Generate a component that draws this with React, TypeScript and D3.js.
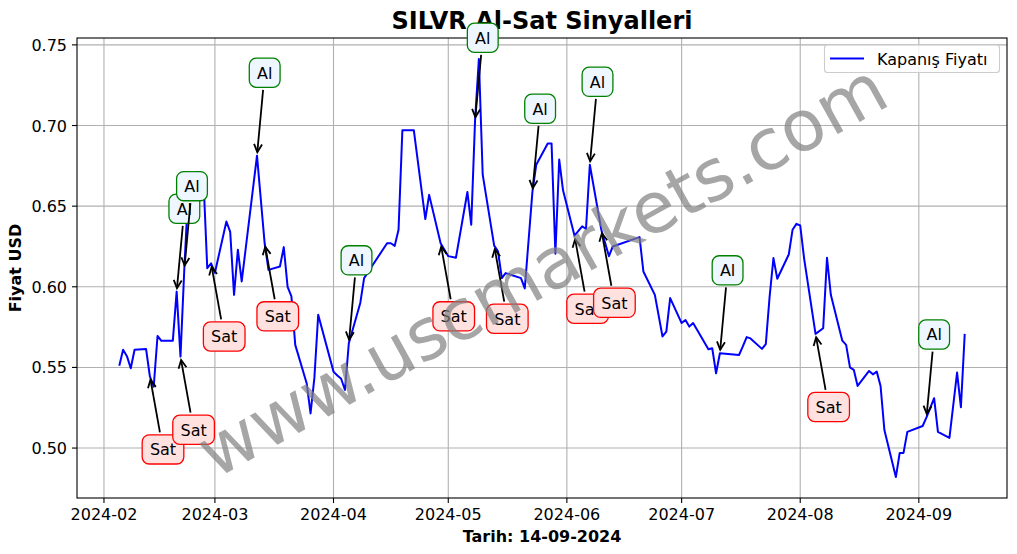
import { useEffect, useRef } from 'react';
import * as d3 from 'd3';

// closing prices
const dates = [
  '2024-02-05', '2024-02-06', '2024-02-07', '2024-02-08', '2024-02-09', '2024-02-12', '2024-02-13', '2024-02-14',
  '2024-02-15', '2024-02-16', '2024-02-19', '2024-02-20', '2024-02-21', '2024-02-22', '2024-02-23', '2024-02-26',
  '2024-02-27', '2024-02-28', '2024-02-29', '2024-03-01', '2024-03-04', '2024-03-05', '2024-03-06', '2024-03-07',
  '2024-03-08', '2024-03-12', '2024-03-14', '2024-03-15', '2024-03-18', '2024-03-19', '2024-03-20', '2024-03-21',
  '2024-03-22', '2024-03-25', '2024-03-26', '2024-03-27', '2024-03-28', '2024-04-01', '2024-04-02', '2024-04-03',
  '2024-04-04', '2024-04-05', '2024-04-08', '2024-04-09', '2024-04-11', '2024-04-15', '2024-04-16', '2024-04-17',
  '2024-04-18', '2024-04-19', '2024-04-22', '2024-04-25', '2024-04-26', '2024-04-29', '2024-05-01', '2024-05-03',
  '2024-05-06', '2024-05-07', '2024-05-08', '2024-05-09', '2024-05-10', '2024-05-13', '2024-05-14', '2024-05-15',
  '2024-05-16', '2024-05-20', '2024-05-21', '2024-05-23', '2024-05-24', '2024-05-27', '2024-05-28', '2024-05-29',
  '2024-05-30', '2024-05-31', '2024-06-03', '2024-06-05', '2024-06-06', '2024-06-07', '2024-06-10', '2024-06-12',
  '2024-06-13', '2024-06-20', '2024-06-21', '2024-06-24', '2024-06-26', '2024-06-27', '2024-06-28', '2024-07-01',
  '2024-07-02', '2024-07-03', '2024-07-04', '2024-07-08', '2024-07-09', '2024-07-10', '2024-07-11', '2024-07-16',
  '2024-07-17', '2024-07-18', '2024-07-19', '2024-07-22', '2024-07-23', '2024-07-24', '2024-07-25', '2024-07-26',
  '2024-07-29', '2024-07-30', '2024-07-31', '2024-08-01', '2024-08-02', '2024-08-05', '2024-08-07', '2024-08-08',
  '2024-08-09', '2024-08-12', '2024-08-13', '2024-08-14', '2024-08-15', '2024-08-16', '2024-08-19', '2024-08-20',
  '2024-08-21', '2024-08-22', '2024-08-23', '2024-08-26', '2024-08-27', '2024-08-28', '2024-08-29', '2024-09-02',
  '2024-09-03', '2024-09-05', '2024-09-06', '2024-09-09', '2024-09-11', '2024-09-12', '2024-09-13',
];

const closes = [
  0.551, 0.561, 0.557, 0.5495, 0.561, 0.5615, 0.5445, 0.538,
  0.5695, 0.5665, 0.5666, 0.597, 0.5567, 0.611, 0.658, 0.662,
  0.667, 0.6115, 0.6145, 0.6087, 0.6405, 0.634, 0.595, 0.623,
  0.6033, 0.6813, 0.627, 0.6105, 0.6126, 0.6246, 0.6, 0.594,
  0.564, 0.54, 0.5215, 0.5435, 0.5826, 0.5474, 0.545, 0.543,
  0.536, 0.565, 0.59, 0.6054, 0.6126, 0.627, 0.627, 0.6254,
  0.6354, 0.697, 0.697, 0.642, 0.657, 0.627, 0.619, 0.618,
  0.6588, 0.6385, 0.703, 0.7413, 0.6695, 0.6255, 0.622, 0.6054,
  0.6085, 0.6054, 0.599, 0.659, 0.6757, 0.6888, 0.6888, 0.6205,
  0.6789, 0.6598, 0.6317, 0.6375, 0.6358, 0.6757, 0.6354, 0.619,
  0.625, 0.6308, 0.6095, 0.595, 0.5692, 0.5722, 0.593, 0.5775,
  0.5794, 0.5753, 0.5775, 0.5613, 0.5619, 0.5464, 0.5588, 0.5577,
  0.563, 0.5688, 0.568, 0.5615, 0.5644, 0.594, 0.6178, 0.605,
  0.62, 0.6354, 0.639, 0.638, 0.6178, 0.5708, 0.5743, 0.618,
  0.595, 0.5666, 0.564, 0.55, 0.5485, 0.5385, 0.5478, 0.5457,
  0.5474, 0.5385, 0.5112, 0.482, 0.497, 0.497, 0.51, 0.5137,
  0.519, 0.5309, 0.51, 0.5063, 0.5468, 0.5253, 0.5708,
];

const buyDates = ['2024-02-20', '2024-02-22', '2024-03-12', '2024-04-05', '2024-05-08', '2024-05-23', '2024-06-07', '2024-07-11', '2024-09-03'];
const sellDates = ['2024-02-13', '2024-02-21', '2024-02-29', '2024-03-14', '2024-04-29', '2024-05-13', '2024-06-03', '2024-06-10', '2024-08-05'];

const yTicks = [0.5, 0.55, 0.6, 0.65, 0.7, 0.75];

const W = 1017;
const H = 554;
const plot = { left: 77, right: 1007, top: 38, bottom: 498 };
const font = 'DejaVu Sans, sans-serif';

export default function App() {
  const svgRef = useRef<SVGSVGElement>(null);

  useEffect(() => {
    document.body.style.margin = '0';
    if (!svgRef.current) return;
    const svg = d3.select(svgRef.current);
    svg.selectAll('*').remove();

    const parse = d3.utcParse('%Y-%m-%d');
    const data = dates.map((d, i) => ({ date: parse(d)!, close: closes[i] }));

    // matplotlib-style 5% margins
    const [t0, t1] = d3.extent(data, d => +d.date) as [number, number];
    const [v0, v1] = d3.extent(data, d => d.close) as [number, number];
    const tp = (t1 - t0) * 0.05;
    const vp = (v1 - v0) * 0.05;

    const x = d3.scaleUtc().domain([new Date(t0 - tp), new Date(t1 + tp)]).range([plot.left, plot.right]);
    const y = d3.scaleLinear().domain([v0 - vp, v1 + vp]).range([plot.bottom, plot.top]);
    const xTicks = x.ticks(d3.utcMonth.every(1)!);

    svg.append('rect').attr('width', W).attr('height', H).attr('fill', 'white');

    // grid
    const grid = svg.append('g').attr('stroke', '#b0b0b0').attr('stroke-width', 1.1);
    xTicks.forEach(t => {
      grid.append('line').attr('x1', x(t)).attr('x2', x(t)).attr('y1', plot.top).attr('y2', plot.bottom);
    });
    yTicks.forEach(v => {
      grid.append('line').attr('x1', plot.left).attr('x2', plot.right).attr('y1', y(v)).attr('y2', y(v));
    });

    // price line
    const line = d3.line<{ date: Date; close: number }>()
      .x(d => x(d.date))
      .y(d => y(d.close));
    svg.append('path')
      .datum(data)
      .attr('fill', 'none')
      .attr('stroke', '#0000ff')
      .attr('stroke-width', 2)
      .attr('stroke-linejoin', 'round')
      .attr('d', line);

    // frame + ticks
    svg.append('rect')
      .attr('x', plot.left).attr('y', plot.top)
      .attr('width', plot.right - plot.left).attr('height', plot.bottom - plot.top)
      .attr('fill', 'none').attr('stroke', 'black').attr('stroke-width', 1.1);

    const axes = svg.append('g').style('font-family', font).style('font-size', '16px');
    xTicks.forEach(t => {
      axes.append('line').attr('x1', x(t)).attr('x2', x(t)).attr('y1', plot.bottom).attr('y2', plot.bottom + 5)
        .attr('stroke', 'black').attr('stroke-width', 1.1);
      axes.append('text').attr('x', x(t)).attr('y', plot.bottom + 22).attr('text-anchor', 'middle')
        .text(d3.utcFormat('%Y-%m')(t));
    });
    yTicks.forEach(v => {
      axes.append('line').attr('x1', plot.left - 5).attr('x2', plot.left).attr('y1', y(v)).attr('y2', y(v))
        .attr('stroke', 'black').attr('stroke-width', 1.1);
      axes.append('text').attr('x', plot.left - 10).attr('y', y(v) + 6).attr('text-anchor', 'end')
        .text(v.toFixed(2));
    });

    // titles
    const cx = (plot.left + plot.right) / 2;
    svg.append('text').attr('x', cx).attr('y', 29).attr('text-anchor', 'middle')
      .style('font-family', font).style('font-size', '24px').style('font-weight', 'bold')
      .text('SILVR Al-Sat Sinyalleri');
    svg.append('text').attr('x', cx).attr('y', 542).attr('text-anchor', 'middle')
      .style('font-family', font).style('font-size', '16px').style('font-weight', 'bold')
      .text('Tarih: 14-09-2024');
    svg.append('text').attr('transform', `translate(21,${(plot.top + plot.bottom) / 2}) rotate(-90)`)
      .attr('text-anchor', 'middle')
      .style('font-family', font).style('font-size', '16px').style('font-weight', 'bold')
      .text('Fiyat USD');

    // signal annotations, in date order
    const signals = [
      ...buyDates.map(d => ({ d, kind: 'Al' })),
      ...sellDates.map(d => ({ d, kind: 'Sat' })),
    ].sort((a, b) => a.d.localeCompare(b.d));

    signals.forEach(s => {
      const idx = dates.indexOf(s.d);
      if (idx < 0) return;
      const px = x(data[idx].date);
      const py = y(data[idx].close);
      const isBuy = s.kind === 'Al';
      const base = isBuy ? py - 77 : py + 79;

      const g = svg.append('g');
      const arrowG = g.append('g');
      const txt = g.append('text').attr('x', px).attr('y', base)
        .style('font-family', font).style('font-size', '16px').text(s.kind);
      const tw = (txt.node() as SVGTextElement).getComputedTextLength();

      const bx0 = px - 7.7, bx1 = px + tw + 7.7;
      const by0 = base - 20.5, by1 = base + 8.7;
      g.insert('rect', 'text')
        .attr('x', bx0).attr('y', by0).attr('width', bx1 - bx0).attr('height', by1 - by0)
        .attr('rx', 7).attr('ry', 7)
        .attr('fill', isBuy ? '#eef6ff' : '#ffe2e0')
        .attr('stroke', isBuy ? 'green' : 'red').attr('stroke-width', 1.3);

      // arrow from box edge to point
      const bcx = (bx0 + bx1) / 2, bcy = (by0 + by1) / 2;
      const dx = px - bcx, dy = py - bcy;
      const len = Math.hypot(dx, dy);
      const ux = dx / len, uy = dy / len;
      const tEdge = Math.min(
        Math.abs(dx) > 1e-6 ? (bx1 - bx0) / 2 / Math.abs(ux) : Infinity,
        Math.abs(dy) > 1e-6 ? (by1 - by0) / 2 / Math.abs(uy) : Infinity,
      ) + 2.5;
      const sx = bcx + ux * tEdge, sy = bcy + uy * tEdge;
      const ex = px - ux * 3.5, ey = py - uy * 3.5;
      const hl = 8, hw = 4;
      arrowG.append('line').attr('x1', sx).attr('y1', sy).attr('x2', ex).attr('y2', ey)
        .attr('stroke', 'black').attr('stroke-width', 1.8);
      arrowG.append('path')
        .attr('d', `M${ex - ux * hl - uy * hw},${ey - uy * hl + ux * hw} L${ex},${ey} L${ex - ux * hl + uy * hw},${ey - uy * hl - ux * hw}`)
        .attr('fill', 'none').attr('stroke', 'black').attr('stroke-width', 1.8);
    });

    // legend
    const lg = svg.append('g');
    lg.append('rect').attr('x', 824.5).attr('y', 45).attr('width', 175).attr('height', 27.5).attr('rx', 3)
      .attr('fill', 'white').attr('fill-opacity', 0.8).attr('stroke', '#cccccc').attr('stroke-width', 1.1);
    lg.append('line').attr('x1', 830).attr('x2', 864).attr('y1', 58.5).attr('y2', 58.5)
      .attr('stroke', '#0000ff').attr('stroke-width', 2);
    lg.append('text').attr('x', 877).attr('y', 64.5)
      .style('font-family', font).style('font-size', '16px').text('Kapanış Fiyatı');

    // watermark
    svg.append('text')
      .attr('transform', `translate(${cx},${(plot.top + plot.bottom) / 2 + 2}) rotate(-29)`)
      .attr('text-anchor', 'middle').attr('dominant-baseline', 'central')
      .style('font-family', font).style('font-size', '71px')
      .attr('fill', '#808080').attr('fill-opacity', 0.7)
      .text('www.uscmarkets.com');
  }, []);

  return <svg ref={svgRef} width={W} height={H} style={{ display: 'block' }} />;
}
